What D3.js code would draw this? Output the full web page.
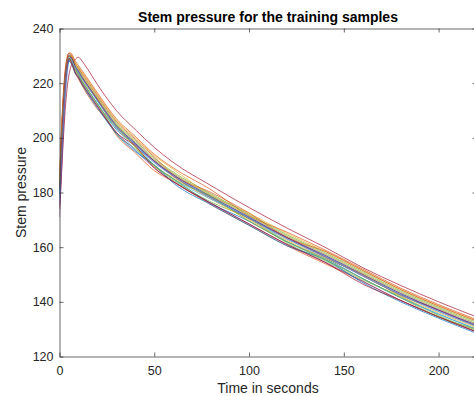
<!DOCTYPE html>
<html><head><meta charset="utf-8">
<script src="https://cdn.jsdelivr.net/npm/d3@7"></script>
<style>
body{margin:0;background:#fff;}
svg{display:block;font-family:"Liberation Sans",Arial,Helvetica,sans-serif;}
</style>
</head><body>
<svg id="chart" width="474" height="396"></svg>
<script>
// ---- data ----
const times = [0,1,2,3,4,5,6,7,8,10,12,15,20,25,30,40,50,60,80,100,120,140,160,180,200,220];

const sample01 = [180,195,210,221,227,229,228.5,227,225.5, 223,220.5,217.5,212.5,207.5,203,197.5,190,185,176,169.5,162,156,148.5,141.5,135.5,130];
const sample02 = [185,200,214,223,228,229,227.5,226,224, 221.5,219,215.5,210.5,206.5,201,194.5,188,184,175.5,168,160.5,154,147.5,140.5,134.5,129];
const sample03 = [183,197,211,221,227,230,230.5,229.5,228, 226,224,221,216,211,206.5,200,193.5,188.5,179,172.5,165,158.5,151.5,144.5,138.5,133];
const sample04 = [171,186,202,215,224,229,230,229,226.5, 224,221.5,218.5,213.5,208.5,204,197.5,191,186,178,170.5,163,156.5,149.5,142.5,136.5,131];
const sample05 = [179,194,209,220,226.5,229,228.5,227,225.5, 223,220.5,217,212,207,201.5,196,189.5,184.5,176.5,170.5,161.5,155,148,142,135,129.5];
const sample06 = [176,189,203,215,223,228,229.5,229,227.5, 225,222.5,219.5,214.5,209.5,205,198.5,192,187,179,171.5,164,157.5,150.5,143.5,137.5,132];
const sample07 = [174,186,199,210,218,223,226,227.5,228.5, 229.5,228,225,219.5,214.5,210,203,196.5,191,182.5,174.5,167,160,152.5,146,140,134.5];
const sample08 = [182,198,213,223,228.5,230.5,229.5,228,226.5, 224.5,222,219,214,209,204.5,198,191.5,186.5,178.5,171,163.5,157,150,143,137,131.5];
const sample09 = [186,201,215,224,229,231,231,230,228.5, 226.5,224.5,221.5,216.5,211.5,207,200.5,194,189,181,171.5,165.5,159,152,145,139,133.5];
const sample10 = [184,199,213,222.5,228,229.5,229,227.5,226, 223.5,221,218,214.5,208,203.5,197,189.5,185.5,177.5,170,162.5,156,150,142,136,130.5];
const sample11 = [178,192,207,219,226,228.5,228,226.5,224.5, 222.5,220,216.5,211.5,206.5,202,195.5,189,184,176,168.5,161,154.5,147.5,140.5,134.5,129];
const sample12 = [181,196,210,220,226,229,230,229,227.5, 225.5,223,220,215,210,205.5,199,192.5,187.5,179.5,172,164.5,158,151,144,138,132.5];
const sample13 = [177,191,206,218,225.5,228.5,228.5,227,225.5, 223.5,220.5,217,212.5,207.5,203.5,195.5,190,185,177.5,171,162,155.5,148.5,141.5,135.5,130];
const sample14 = [183,199,213,222.5,228,230,229.5,228,226.5, 224,222,219,214,208.5,204,197.5,191.5,186,178,170.5,163.5,156.5,149.5,142.5,137,131];
const sample15 = [180,196,211,221,226.5,228,227.5,226,224, 222,219.5,216,211,206,201.5,195,190,183.5,175.5,168,160.5,155.5,147,140,134,128.5];
const sample16 = [188,203,216,225,229.5,231,230.5,229,227.5, 225.5,223.5,220.5,215.5,210.5,206,199.5,193,186.5,180,172.5,163.5,158.5,151.5,144.5,138.5,133];
const sample17 = [185,200,213,222,227,229.5,230,229,227.5, 225,222.5,219.5,214.5,209.5,205,198.5,192,187,179,171.5,164,157.5,150.5,143.5,137.5,132];
const sample18 = [175,190,206,218,225.5,229,229.5,228.5,226.5, 224.5,222,219,214,209,204.5,198,191.5,186.5,178.5,171,163.5,157,150,143,137,131.5];
const sample19 = [182,198,212,222,227.5,229.5,228.5,227,225.5, 223,220.5,217.5,212.5,207.5,204.5,196.5,190,185,178.5,169.5,162,155.5,148.5,141.5,134.5,130];
const sample20 = [179,195,210,221,227,229.5,229,227.5,226, 224,221.5,218.5,213.5,208.5,204,197.5,191,186,178,170.5,163,156.5,149.5,142.5,136.5,131];
const sample21 = [181,197,212,222,227,229,228,226.5,224.5, 222,219.5,216.5,211.5,206.5,202,197,189,184,176,168.5,161,154.5,146.5,140.5,134.5,129];

const samples = [sample01,sample02,sample03,sample04,sample05,sample06,sample07,
                 sample08,sample09,sample10,sample11,sample12,sample13,sample14,
                 sample15,sample16,sample17,sample18,sample19,sample20,sample21];

const lineColors = ["#0072BD","#D95319","#EDB120","#7E2F8E","#77AC30","#4DBEEE","#A2142F"];
const xTicks = [0,50,100,150,200];
const yTicks = [120,140,160,180,200,220,240];
const xDomain = [0,220];
const yDomain = [120,240];
const titleText = "Stem pressure for the training samples";
const xLabelText = "Time in seconds";
const yLabelText = "Stem pressure";

// ---- drawing ----
const svg = d3.select("#chart");
const L = 59.5, R = 476.5, T = 28.5, B = 356.5;
const x = d3.scaleLinear().domain(xDomain).range([L, R]);
const y = d3.scaleLinear().domain(yDomain).range([B, T]);
const axisColor = "#262626";

svg.append("rect").attr("width",474).attr("height",396).attr("fill","#fff");

svg.append("clipPath").attr("id","clip")
  .append("rect").attr("x",L).attr("y",T).attr("width",R-L).attr("height",B-T);

const line = d3.line().x((d,i)=>x(times[i])).y(d=>y(d)).curve(d3.curveMonotoneX);
svg.append("g").attr("clip-path","url(#clip)")
  .selectAll("path").data(samples).join("path")
  .attr("d", d=>line(d))
  .attr("fill","none")
  .attr("stroke",(d,i)=>lineColors[i % lineColors.length])
  .attr("stroke-width",0.7)
  .attr("stroke-linejoin","round");

function styleAxis(g){
  g.select(".domain").attr("stroke",axisColor).attr("stroke-width",0.7);
  g.selectAll(".tick line").attr("stroke",axisColor).attr("stroke-width",0.7);
  g.selectAll(".tick text").attr("fill",axisColor).attr("font-size","12.5px")
    .attr("font-family","'Liberation Sans',Arial,sans-serif");
}

svg.append("g").attr("transform",`translate(0,${B})`)
  .call(d3.axisBottom(x).tickValues(xTicks).tickSizeInner(-4).tickSizeOuter(0).tickPadding(10))
  .call(styleAxis);
svg.append("g").attr("transform",`translate(0,${T})`)
  .call(d3.axisTop(x).tickValues(xTicks).tickSizeInner(-4).tickSizeOuter(0).tickFormat(""))
  .call(styleAxis);
svg.append("g").attr("transform",`translate(${L},0)`)
  .call(d3.axisLeft(y).tickValues(yTicks).tickSizeInner(-4).tickSizeOuter(0).tickPadding(6))
  .call(styleAxis);
svg.append("g").attr("transform",`translate(${R},0)`)
  .call(d3.axisRight(y).tickValues(yTicks).tickSizeInner(-4).tickSizeOuter(0).tickFormat(""))
  .call(styleAxis);

svg.selectAll("g text").attr("font-size","12.5px");

svg.append("text").attr("x",(L+R)/2).attr("y",22)
  .attr("text-anchor","middle").attr("font-weight","bold").attr("font-size","14px")
  .attr("fill","#000").text(titleText);

svg.append("text").attr("x",(L+R)/2).attr("y",393)
  .attr("text-anchor","middle").attr("font-size","14px")
  .attr("fill",axisColor).text(xLabelText);

svg.append("text").attr("transform",`translate(26,${(T+B)/2}) rotate(-90)`)
  .attr("text-anchor","middle").attr("font-size","14px")
  .attr("fill",axisColor).text(yLabelText);
</script>
</body></html>
